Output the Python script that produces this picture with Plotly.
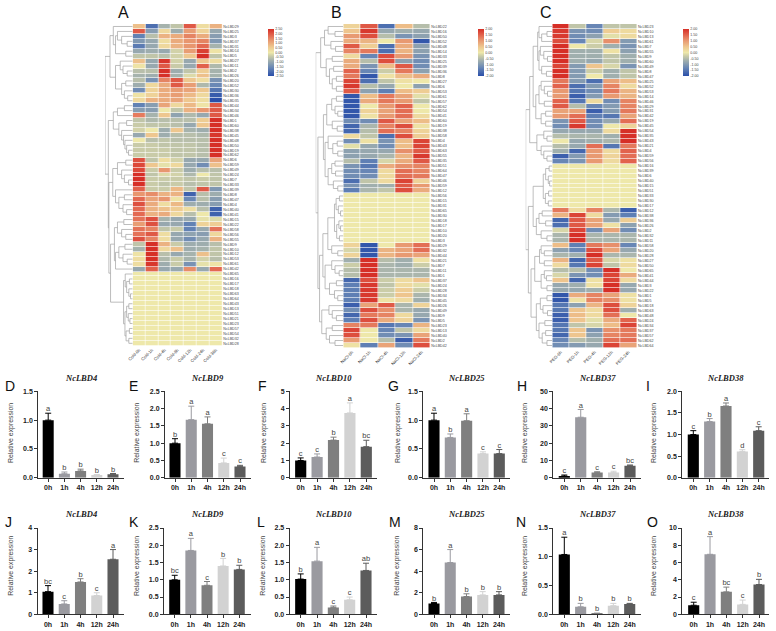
import plotly.graph_objects as go

W, H = 776, 631

# ---------- expression heatmaps: z-scores per gene (rows) and time point (columns) ----------
cold_cols = ["Cold-0h", "Cold-1h", "Cold-4h", "Cold-8h", "Cold-12h", "Cold-24h", "Cold-36h"]
cold_ids = [29,25,3,37,31,14,5,27,11,2,26,20,52,30,36,35,44,34,46,1,60,38,45,48,50,19,62,6,59,49,
            24,7,33,39,8,47,4,40,41,15,22,58,56,55,9,10,12,53,61,42,65,16,17,18,63,64,43,13,51,21,
            23,57,54,32,28]
cold_z = [
 [0.7,-2,-0.8,-0.5,2,0.2,0.9],[2,-1.2,0.3,-0.9,1.2,0.4,-1],[-1.7,-0.6,0.9,1,1.5,1,-1.2],
 [-1.3,-1,0.2,1,1.3,1.5,-1.3],[-1.8,-1,0.3,0.9,1.3,1.8,-0.8],[-1,-0.9,-1,-0.3,1.2,2.3,0.1],
 [-0.5,-0.5,-0.6,-0.3,0.6,2.5,-0.5],[0.7,-1,2.4,-0.3,-1,0.6,0.2],[0.1,-1,2,-0.4,-1,1.9,-0.7],
 [-0.6,-0.6,2.5,-0.9,-0.5,0.5,-0.8],[-0.8,-0.9,2.5,-0.8,-0.2,0.7,-0.8],[-0.6,-1.4,1.5,2,0.6,0.2,-1.4],
 [-0.9,0.3,1,2,1.2,-0.7,-1.6],[-1.5,0.4,1,1.2,1.1,0.6,-1.9],[0.1,0.4,1,1.2,0.8,0.3,-2.3],
 [0.3,0.9,1,1.1,0.6,0.2,-2.5],[-1.7,-1.2,1.1,0.3,0.8,0.1,2],[-1.2,-1.2,0,-0.5,0.9,1.3,2],
 [1.6,-0.8,0.6,-1.1,-0.7,-1,2],[-0.5,-0.7,-0.6,-0.6,-0.6,0.5,2.5],[-0.4,-0.5,-0.5,-0.6,-1,0.6,2.5],
 [-0.3,0,-0.9,0.6,-0.8,-0.9,2.5],[-1,0.6,-0.9,-0.6,-0.6,-0.7,2.4],[0,-0.6,-0.5,-0.6,-0.6,-0.6,2.5],
 [-0.4,-0.4,-0.5,-0.5,-0.5,-0.6,2.5],[-0.4,-0.4,-0.4,-0.5,-0.5,-0.6,2.5],[-0.4,-0.4,-0.4,-0.5,-0.5,-0.6,2.5],
 [2.1,-0.5,0.2,-0.3,-1,-1,1.1],[2.2,0.6,-0.1,0.3,-1,-1.5,0.7],[2.2,-0.4,1.3,-0.4,-0.9,-0.6,-0.6],
 [2.5,-0.5,-0.2,-0.3,-0.7,0,-0.5],[2.5,-0.4,-0.4,-0.4,-0.5,-0.4,-0.5],[2.5,-0.4,-0.5,-0.4,-0.6,-0.5,-0.5],
 [1.9,-0.4,-0.4,0.8,-0.5,2,-1.3],[1.3,1.4,0.9,0.9,-2.2,-0.6,-0.9],[1.8,1.1,1.3,0.1,-1.6,-0.6,-1.2],
 [2.1,1,0.2,0.8,-0.9,-0.9,-1.2],[1.8,0.9,0.7,0.5,0.2,-0.6,-2.2],[1.8,0.9,1,0.3,-0.6,0,-2.2],
 [1.7,2.1,-0.8,-1,-1,-0.1,-0.2],[1.2,2.1,-1,-1,-1.7,0.4,0.5],[1.7,1.5,-0.5,-0.4,-1.7,-1,1.7],
 [1.7,2,0.2,-1,-1.1,-1.2,0.3],[2.1,1.5,0.2,-1,-1.5,-1,0.9],[-0.5,2.5,0.9,-0.4,-0.9,-0.9,-0.6],
 [-0.8,2.5,0.3,0.7,-0.9,-0.8,-0.5],[0.1,2.5,-0.6,-1,-0.8,0.7,-0.5],[0.2,2.5,-0.7,-0.4,-0.8,-0.3,-0.6],
 [0.2,2.4,-0.9,-0.4,-1.4,-0.1,0.1],[-1,1.9,-1,-1,1.4,-1,1.8],
] + [[0]*7 for _ in range(15)]

salt_cols = ["NaCl-0h", "NaCl-1h", "NaCl-4h", "NaCl-12h", "NaCl-24h"]
salt_ids = [22,16,50,52,48,14,33,25,39,36,8,27,6,53,61,57,62,54,41,60,19,38,58,4,43,63,55,35,51,64,
            47,46,59,12,56,15,31,65,30,18,17,10,20,3,29,32,44,21,7,11,1,37,24,28,34,45,26,49,9,5,
            23,13,40,2,42]
salt_z = [
 [0.3,1.6,-1.6,0.6,-0.5],[0.5,1.9,-0.8,-0.7,-0.8],[1,1.7,-0.5,-1.1,-0.9],[0.8,0.7,0,1,-1.9],
 [1.6,0.4,-1.6,0.8,-0.9],[1.2,1.3,-1.6,0.7,-0.9],[0.2,-1.3,1.7,1,-1.1],[0.8,-0.5,1.7,-0.9,-1.2],
 [0.8,-1.1,0.6,1.6,-1.2],[1.5,-1.3,-0.3,1.3,-0.9],[1.3,-1.9,0.1,0.6,0.8],[1.8,-1.6,-0.4,0.1,0],
 [1.9,-0.5,-0.8,0,-0.9],[1.6,-0.9,-1.4,0.6,0.4],[-1.9,0.6,1.3,0.9,-0.1],[-1.9,0.8,1.3,1,-0.4],
 [-1.9,0,1,1.5,0],[-1.9,0.3,0.9,1.4,0],[-1.9,0.1,1,1.4,0.2],[-1.2,-1.2,1.6,0.9,0.6],
 [-1.7,-0.6,1.2,1.7,0.1],[-1.7,-0.5,1.4,1.2,0.3],[0.2,-0.4,-1.6,1.7,0.4],[-1.2,0.1,-1.1,0.6,1.8],
 [-0.1,-0.8,-1.2,0.6,1.8],[-0.9,-0.8,-0.8,1.1,1.6],[-0.9,-0.8,-0.6,0.7,1.9],[-0.5,-1.4,-0.2,0.8,1.6],
 [-1.1,-1.5,0.8,1.1,1.2],[-1.2,-1.3,0.2,1.4,1.2],[-1.2,-1.2,0.2,1.4,1.3],[-1.6,-0.4,0.2,1.8,0.3],
 [-1.1,-0.7,-0.7,1.6,1],[-1.4,-0.6,-0.4,1.7,0.8],
] + [[0]*5 for _ in range(10)] + [
 [0.3,-1.9,0,1,1.4],[-0.2,-1.9,0.7,0.9,1.4],[0.3,-1.9,0.7,1,0.9],[-0.7,2,-0.5,-0.7,0.1],
 [-0.3,2,-0.6,-0.7,-0.3],[-0.5,2,-0.6,-0.6,-0.6],[-0.5,2,-0.6,-0.6,-0.6],[-1.7,1.7,-0.3,0.2,0.5],
 [-1.4,1.9,-0.4,0.2,-0.1],[-1.4,1.9,-0.3,0.4,-0.3],[-1.4,1.9,-0.3,0.5,-0.6],[-1.4,1.9,0.1,0.2,-0.7],
 [-1.8,0.9,1.6,-0.6,0.3],[-1.2,1.7,1.1,-0.6,-0.8],[-1.7,1.3,1.2,0.2,-0.8],[-1.4,1.7,0.8,0.3,-1.1],
 [1.2,1.3,-1.5,-1.3,0.7],[1.8,0,-1.3,-0.4,0.2],[1.7,0,-1.2,-1.1,0.9],[1,0,-0.5,-1.8,1.3],
 [0.1,-1.4,0.9,-1.2,1.7],
]

peg_cols = ["PEG-0h", "PEG-1h", "PEG-4h", "PEG-12h", "PEG-24h"]
peg_ids = [23,10,13,61,7,55,9,60,49,8,47,25,52,53,14,46,29,31,42,19,45,54,35,43,21,4,59,56,
           16,39,6,40,15,51,33,30,17,12,38,36,26,2,32,11,58,20,28,27,50,65,41,44,3,22,1,5,18,63,
           48,24,34,37,57,62,64]
peg_z = [
 [2,-0.4,-1.3,-0.4,-0.4],[1.9,-1.1,-1.2,0.4,0.2],[1.9,-1.2,-0.9,-0.1,0.2],[1.7,-1.3,-0.2,1.1,-1],
 [2,0,-0.3,-0.7,-1.1],[2,-0.7,-0.7,0.1,-0.9],[2,-0.7,-0.7,-0.4,-0.7],[2,-0.7,-0.8,-0.4,-0.7],
 [1.8,-1,0.5,-0.2,-1.1],[2,-1,-0.3,-0.7,-0.4],[2,-1,0,-0.7,-0.4],[1.3,-1,-1.6,0.9,0.6],
 [1.5,-1.6,-1,1.2,0.2],[1,-1.5,-1.2,1.3,0.7],[1,-1.8,-1,1,0.7],[1.5,-1.5,0.2,-1.2,1.2],
 [1.6,-0.5,-1.3,-1,1.2],[0.9,0.9,-1.8,-1,1.3],[1,1.4,-1.4,-1.5,0.9],[-1.1,1.6,-1.2,-0.8,1.4],
 [-1.2,1.9,-1.2,0,0.3],[-0.8,-0.8,-0.8,0.2,2],[-0.5,-0.6,-0.6,-0.7,2],[0,-0.8,-0.7,-0.6,2],
 [-0.5,-0.8,1.4,-1.5,1.3],[-0.7,-1.7,1,0.2,1.5],[-1.8,-1,1,0.3,1.4],[-1.3,-1.1,1,0.2,1.5],
] + [[0]*5 for _ in range(9)] + [
 [1.3,0.2,1.2,-0.6,-1.8],[0.7,1.8,0.2,-1,-1.4],[-1.7,1.6,0.9,-0.8,0.4],[-1.6,1.6,0.9,0.1,-0.9],
 [-0.2,1.8,-1.2,0.9,-1.2],[-0.6,2,-0.6,-0.6,-0.6],[-0.6,2,-0.6,-0.6,-0.6],[0.6,-1.4,1.3,1.1,-1.3],
 [-0.9,-1.3,1.7,0.9,-0.8],[-0.6,-0.7,2,-0.6,-0.6],[0.7,-1.7,1.6,-0.2,0.1],[0.2,-1.5,1.8,-0.4,0.2],
 [-0.5,-0.5,-1.2,2,0],[-0.2,-1.1,-1.2,1.8,0.8],[0.5,-1.7,0.1,1.8,0.2],[-0.8,-0.7,0.1,2,-0.8],
 [-0.8,-0.8,-0.7,2,-0.8],[-1.9,0.8,1.2,0.9,0.1],[-1.9,0.1,1.2,1.1,0.1],[-1.5,-0.9,0.7,1.7,0.3],
 [-1.5,0.5,0.2,1.7,-0.7],[-1.8,0.6,0.2,1.4,0],[-1.8,0.5,-0.1,0.8,1.5],[-1.5,-0.4,-0.2,0.6,1.8],
 [-1.5,0.5,-1.1,1.1,1.3],[-1.7,0.5,-0.9,1.2,1.3],[-1.3,-0.5,-0.7,1.4,1.4],[-1.2,-1,-0.8,1.8,0.9],
]

# ---------- row clustering: (merge height, upper branch, lower branch); 0 is a single gene ----------
yellow_15 = (.33,(.27,0,(.22,(.12,0,0),(.14,0,(.08,0,0)))),(.28,(.22,(.14,0,0),(.16,0,(.10,0,0))),(.24,(.12,0,0),(.14,0,0))))
cold_tree = (1.0,
    (.82,(.70,0,(.62,(.55,0,(.40,0,(.20,0,0))),(.25,0,0))),
         (.62,(.45,0,(.35,0,(.20,0,0))),(.40,(.25,0,0),(.30,0,(.18,0,0))))),
    (.88,(.70,(.55,(.30,0,0),0),(.50,(.22,0,0),(.40,0,(.33,0,(.28,0,(.22,0,(.15,0,0))))))),
         (.86,(.72,(.55,(.25,0,0),(.40,0,(.30,0,(.15,0,0)))),(.62,0,(.50,(.30,0,0),(.35,0,(.22,0,0))))),
              (.80,(.66,(.55,(.32,0,0),(.40,0,(.25,0,0))),(.62,(.50,(.28,0,0),(.35,0,(.20,0,0))),0)),yellow_15))))
salt_tree = (1.0,
    (.82,(.68,(.55,0,(.30,0,0)),(.45,0,(.28,0,0))),
         (.62,(.40,0,0),(.50,(.35,0,0),(.40,(.25,0,0),(.25,0,0))))),
    (.92,(.72,(.60,(.42,(.25,0,0),(.30,0,(.20,0,0))),(.40,0,(.22,0,0))),
              (.66,(.55,0,(.38,(.22,0,0),(.20,0,0))),(.55,(.42,(.30,0,0),(.28,0,0)),(.36,0,(.20,0,0))))),
         (.86,(.74,(.56,(.32,(.26,(.14,0,0),(.18,0,(.10,0,0))),(.24,(.16,0,(.10,0,0)),(.14,0,0))),(.42,0,(.20,0,0))),
                   (.66,(.42,0,(.30,0,(.15,0,0))),(.50,(.25,0,0),(.32,0,(.20,0,0))))),
              (.78,(.52,0,(.40,0,(.25,0,0))),(.62,(.40,0,0),(.50,0,(.30,0,0)))))))
peg_tree = (1.0,
    (.85,(.72,(.55,(.50,0,(.40,(.20,0,0),0)),(.50,(.45,0,(.32,0,(.18,0,0))),(.40,0,(.22,0,0)))),
              (.62,(.50,(.42,0,(.30,0,(.18,0,0))),(.30,0,0)),(.42,(.25,0,0),(.25,0,0)))),
         (.58,(.32,0,(.20,0,0)),(.42,0,(.32,0,(.20,0,0))))),
    (.90,(.72,(.34,(.25,(.12,0,0),(.15,0,(.10,0,0))),(.26,(.14,0,0),(.15,0,0))),
              (.60,(.50,(.38,0,0),(.25,0,0)),(.42,0,(.20,0,0)))),
         (.80,(.66,(.48,(.42,0,(.30,0,0)),(.30,0,0)),(.42,(.30,0,(.22,0,0)),(.20,0,0))),
              (.60,(.45,(.20,0,0),(.35,0,(.18,0,0))),(.50,(.28,0,0),(.38,(.25,0,0),(.20,0,0)))))))

cold_bar_ticks = [2.5,2,1.5,1,0.5,0,-0.5,-1,-1.5,-2,-2.5]
std_bar_ticks = [2,1.5,1,0.5,0,-0.5,-1,-1.5,-2]

# ---------- qPCR panels: mean, top of error bar, significance letters ----------
times = ["0h", "1h", "4h", "12h", "24h"]
bar_colors = ["#000000", "#9a9aa0", "#7f7f7f", "#d2d2d2", "#5c5c5c"]

genes_top = ["NcLBD4", "NcLBD9", "NcLBD10", "NcLBD25", "NcLBD37", "NcLBD38"]
means_top = [[1,.07,.12,.05,.06],[1,1.68,1.56,.43,.33],[1,1.2,2.18,3.75,1.8],
             [1,.7,.99,.42,.42],[1,35,3,3,7],[1,1.3,1.66,.61,1.09]]
tops_top = [[1.12,.1,.15,.055,.075],[1.13,2.07,1.76,.57,.36],[1.15,1.38,2.35,4.33,2.17],
            [1.12,.76,1.11,.45,.49],[1.6,39.5,3.5,3.8,7.4],[1.09,1.37,1.73,.65,1.18]]
letters_top = [list("abbbb"),list("baacc"),["c","c","b","a","bc"],list("abacc"),
               ["c","a","c","c","bc"],list("cbadc")]
yticks_top = [[0,.5,1,1.5],[0,.5,1,1.5,2,2.5],[0,1,2,3,4,5],[0,.5,1,1.5],[0,10,20,30,40,50],[0,.5,1,1.5,2]]

genes_bot = ["NcLBD4", "NcLBD9", "NcLBD10", "NcLBD25", "NcLBD37", "NcLBD38"]
means_bot = [[1.05,.48,1.5,.87,2.55],[1,1.85,.84,1.4,1.3],[1.02,1.54,.2,.42,1.27],
             [1,4.8,1.65,1.8,1.8],[1.04,.13,.01,.15,.18],[1.05,6.95,2.6,1.15,3.45]]
tops_bot = [[1.33,.63,1.65,1,3],[1.13,2.2,.95,1.62,1.42],[1.17,1.94,.24,.5,1.48],
            [1.1,6,1.9,2.1,2.1],[1.34,.19,.02,.19,.19],[1.4,9,3.15,1.65,4.05]]
letters_bot = [["bc","c","b","c","a"],["bc","a","c","b","b"],["b","a","c","c","ab"],
               list("babbb"),list("abbbb"),["c","a","bc","c","b"]]
yticks_bot = [[0,1,2,3,4],[0,.5,1,1.5,2,2.5],[0,.5,1,1.5,2,2.5],[0,2,4,6,8],[0,.5,1,1.5],[0,2,4,6,8,10]]

# ---------- page layout in pixels ----------
heat_layout = [  # dendrogram root x, matrix left, right, top, bottom, colour bar left
    (105.0, 132.7, 222.3, 24.0, 345.8, 267.7),
    (315.7, 343.3, 430.3, 24.0, 348.0, 478.3),
    (525.7, 552.3, 637.0, 24.0, 348.0, 683.3),
]
bar_layout_top = [  # axis left, axis right, first bar, last bar, y label x
    (38.3, 124.0, 48.2, 113.0, 11.0), (165.0, 250.7, 175.0, 240.0, 136.7),
    (290.0, 376.7, 300.7, 366.3, 264.0), (423.3, 510.0, 434.0, 499.3, 398.0),
    (553.3, 641.0, 564.3, 630.0, 525.0), (682.3, 769.0, 693.3, 758.7, 654.0),
]
bar_layout_bot = [
    (37.7, 124.0, 48.0, 113.0, 10.7), (164.0, 250.7, 174.7, 239.3, 137.0),
    (289.7, 376.7, 300.7, 366.0, 262.7), (423.3, 510.0, 434.0, 499.0, 396.7),
    (553.3, 640.7, 564.3, 629.7, 525.0), (682.3, 769.0, 693.7, 759.0, 654.0),
]
letter_pos = [("A",123.5,12,16),("B",336,12,16),("C",546,12,16),
              ("D",9.5,386,14),("E",133.5,386,14),("F",262,386,14),("G",393,386,14),("H",521.5,386,14),("I",648,386,14),
              ("J",8,522,14),("K",134,522,14),("L",260.5,522,14),("M",395,522,14),("N",521,522,14),("O",652,522,14)]

heat_scale = [[0,"#2A4FA9"],[.17,"#6685B5"],[.33,"#A2B0AE"],[.42,"#C9CBA8"],[.5,"#EEE8AA"],
              [.62,"#EEC78F"],[.75,"#E89A72"],[.87,"#E2654F"],[1,"#D62F27"]]

def xd(a, b):
    return [a / W, b / W]

def yd(top, bottom):
    return [1 - bottom / H, 1 - top / H]

def tree_segments(node, cursor, xs, ys):
    """Walk a cluster tree, return (row position, height) of the node and append its elbows."""
    if node == 0:
        pos = cursor[0]
        cursor[0] += 1
        return pos, 0.0
    h, upper, lower = node
    y1, h1 = tree_segments(upper, cursor, xs, ys)
    y2, h2 = tree_segments(lower, cursor, xs, ys)
    xs.extend([h1, h, h, h2, None])
    ys.extend([y1, y1, y2, y2, None])
    return (y1 + y2) / 2, h

fig = go.Figure()
layout = {}
annotations = []
axis_no = [0]

def new_axes():
    axis_no[0] += 1
    n = axis_no[0]
    return n, ("" if n == 1 else str(n))

HEAT_FONT = dict(family="Liberation Sans", size=3.6, color="#444444")

heat_sets = [(cold_cols, cold_ids, cold_z, cold_tree, 2.5, cold_bar_ticks),
             (salt_cols, salt_ids, salt_z, salt_tree, 2.0, std_bar_ticks),
             (peg_cols, peg_ids, peg_z, peg_tree, 2.0, std_bar_ticks)]

for (cols, ids, z, tree, vmax, cb_ticks), (root_x, left, right, top, bottom, cb_x) in zip(heat_sets, heat_layout):
    n, s = new_axes()
    rows = list(range(len(z)))
    fig.add_trace(go.Heatmap(
        z=z, x=cols, y=rows, xaxis="x" + s, yaxis="y" + s,
        zmin=-vmax, zmax=vmax, colorscale=heat_scale, xgap=0.6, ygap=0.6,
        colorbar=dict(thickness=6, thicknessmode="pixels", len=47, lenmode="pixels",
                      x=cb_x / W, xanchor="left", y=1 - 29 / H, yanchor="top", xpad=0, ypad=0,
                      tickvals=cb_ticks, ticktext=[f"{t:.2f}" for t in cb_ticks],
                      tickfont=HEAT_FONT, ticks="", outlinewidth=0, borderwidth=0),
    ))
    layout["xaxis" + s] = dict(domain=xd(left, right), anchor="y" + s, tickangle=-45,
                               tickfont=dict(family="Liberation Sans", size=4.3, color="#333333"),
                               showgrid=False, zeroline=False, showline=False, ticks="", ticklen=0)
    layout["yaxis" + s] = dict(domain=yd(top, bottom), anchor="x" + s, side="right",
                               range=[len(z) - 0.5, -0.5], tickmode="array", tickvals=rows,
                               ticktext=[f"NcLBD{i}" for i in ids], tickfont=HEAT_FONT,
                               showgrid=False, zeroline=False, showline=False, ticks="")
    # cluster tree on its own x axis, sharing the matrix rows
    xs, ys = [], []
    tree_segments(tree, [0], xs, ys)
    m, t = new_axes()
    fig.add_trace(go.Scatter(x=xs, y=ys, mode="lines", xaxis="x" + t, yaxis="y" + s,
                             line=dict(color="#a0a0a0", width=0.7), hoverinfo="skip", showlegend=False))
    layout["xaxis" + t] = dict(domain=xd(root_x, left), range=[1.0, 0], anchor="y" + s, visible=False)

def add_bar_panel(gene, mean, tops, letters, yticks, geom, y_top, y_bottom, title_y, label_y):
    ax_l, ax_r, bar0, bar4, label_x = geom
    step = (bar4 - bar0) / 4
    n, s = new_axes()
    pos = list(range(5))
    # one trace per time point so each error whisker takes its bar's colour
    for p, m_val, t_val, colour in zip(pos, mean, tops, bar_colors):
        fig.add_trace(go.Bar(
            x=[p], y=[m_val], width=0.68, marker=dict(color=colour, line=dict(width=0)),
            xaxis="x" + s, yaxis="y" + s, showlegend=False,
            error_y=dict(type="data", symmetric=False, array=[t_val - m_val], arrayminus=[0],
                         color=colour, thickness=1, width=3),
        ))
    fig.add_trace(go.Scatter(
        x=pos, y=tops, mode="text", text=letters, textposition="top center",
        textfont=dict(family="Liberation Sans", size=7.5, color="#444444"),
        xaxis="x" + s, yaxis="y" + s, showlegend=False, hoverinfo="skip", cliponaxis=False,
    ))
    layout["xaxis" + s] = dict(
        domain=xd(ax_l, ax_r), anchor="y" + s, range=[(ax_l - bar0) / step, (ax_r - bar0) / step],
        tickmode="array", tickvals=pos, ticktext=times, showgrid=False, zeroline=False,
        showline=True, linecolor="#333333", linewidth=1.1, ticks="outside", ticklen=3, tickwidth=1,
        tickcolor="#333333", tickfont=dict(family="Liberation Sans", size=7, color="#222222", weight="bold"))
    layout["yaxis" + s] = dict(
        domain=yd(y_top, y_bottom), anchor="x" + s, range=[0, yticks[-1]], tickmode="array",
        tickvals=yticks, ticktext=[f"{t:.1f}" if yticks[1] < 1 else str(t) for t in yticks],
        showgrid=False, zeroline=False, showline=True, linecolor="#333333", linewidth=1.1,
        ticks="outside", ticklen=3, tickwidth=1, tickcolor="#333333",
        tickfont=dict(family="Liberation Sans", size=7, color="#222222", weight="bold"))
    annotations.append(dict(text=gene, x=(ax_l + ax_r) / 2 / W, y=1 - title_y / H, xref="paper", yref="paper",
                            showarrow=False, xanchor="center", yanchor="middle",
                            font=dict(family="Liberation Serif", size=8.5, color="#222222", style="italic", weight="bold")))
    annotations.append(dict(text="Relative expression", x=label_x / W, y=1 - label_y / H, xref="paper", yref="paper",
                            showarrow=False, textangle=-90, xanchor="center", yanchor="middle",
                            font=dict(family="Liberation Sans", size=6.9, color="#444444")))

for i in range(6):
    add_bar_panel(genes_top[i], means_top[i], tops_top[i], letters_top[i], yticks_top[i],
                  bar_layout_top[i], 391.3, 477.8, 378, 433)
for i in range(6):
    add_bar_panel(genes_bot[i], means_bot[i], tops_bot[i], letters_bot[i], yticks_bot[i],
                  bar_layout_bot[i], 528, 614.3, 514, 566)

for label, px, py, size in letter_pos:
    annotations.append(dict(text=label, x=px / W, y=1 - py / H, xref="paper", yref="paper", showarrow=False,
                            xanchor="center", yanchor="middle",
                            font=dict(family="Liberation Sans", size=size, color="#111111")))

fig.update_layout(width=W, height=H, margin=dict(l=0, r=0, t=0, b=0, autoexpand=False), paper_bgcolor="white",
                  plot_bgcolor="white", showlegend=False, annotations=annotations, **layout)
fig.write_html("out.html")
